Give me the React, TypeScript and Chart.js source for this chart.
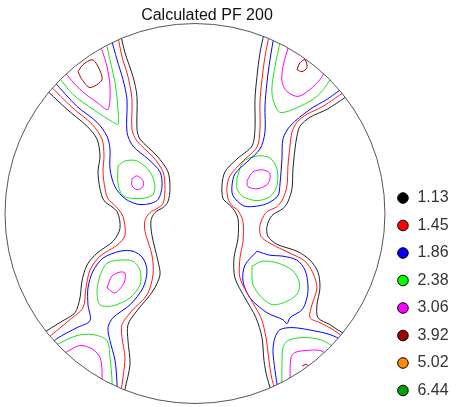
import React, { useEffect, useRef } from "react";
import { Chart, registerables } from "chart.js";

Chart.register(...registerables);

type Pt = [number, number];

// Pole figure radius (data units); contour coordinates are relative to the figure centre.
const R = 95;

const chartTitle = "Calculated PF 200";
const levels = ["1.13", "1.45", "1.86", "2.38", "3.06", "3.92", "5.02", "6.44"];

// ---- level 1.13 ----
const lv113_leftWest: Pt[] = [[-75, 62.5], [-73, 61], [-64, 52.5], [-54, 44], [-49, 37.5], [-47.5, 29], [-48.5, 21], [-47.5, 12.5], [-45.5, 6.5], [-39, 1], [-37.5, -7.5], [-41, -14], [-49, -20], [-54, -26], [-56.5, -34], [-57.5, -42.5], [-60, -50], [-66, -54], [-74, -59], [-76, -60.5]];
const lv113_leftEast: Pt[] = [[-37, 89.5], [-35, 81], [-31, 69], [-29, 59], [-29, 42.5], [-27.5, 37.5], [-19, 29], [-13.5, 21], [-12.5, 12.5], [-13.5, 6], [-16, 3], [-20, 0.5], [-22, -3.5], [-21.5, -11], [-18.5, -24], [-17.5, -31], [-21, -39], [-29, -49], [-33.5, -56], [-33.5, -64], [-32.5, -76], [-35, -88.5], [-35.5, -91]];
const lv113_rightWest: Pt[] = [[34.5, 90.5], [32.5, 81], [31, 69], [30, 57.5], [30, 42.5], [28.5, 34], [21, 27.5], [15, 21], [13.5, 14], [14, 7.5], [16.5, 5], [19, 2.5], [21.5, -2.5], [21.5, -12.5], [19.5, -22.5], [20, -32.5], [25, -42.5], [30.5, -52.5], [33.5, -62.5], [34.5, -74], [36, -82.5], [38, -89]];
const lv113_rightEast: Pt[] = [[76.5, 60], [75, 58.5], [66, 52.5], [57.5, 48.5], [52.5, 44], [51, 39], [50, 32.5], [49, 22.5], [48.5, 12.5], [46.5, 6], [44, 2.5], [38.5, -1], [36, -6.5], [36.5, -11.5], [41, -15.5], [51, -19], [57.5, -23.5], [61.5, -29.5], [62.5, -37.5], [61, -46], [61.5, -52.5], [67.5, -56], [73.5, -60], [76, -61]];

// ---- level 1.45 ----
const lv145_leftWest: Pt[] = [[-72.5, 64.5], [-61.5, 53.5], [-51.5, 45], [-46.5, 37.5], [-45.5, 29], [-46, 21], [-45, 12.5], [-43.5, 7.5], [-39.5, 3.5], [-36, -1.5], [-35, -11], [-39, -16], [-47.5, -21.5], [-52.5, -28.5], [-54.5, -37.5], [-56, -47.5], [-62.5, -53.5], [-71.5, -61], [-73.5, -63]];
const lv145_leftEast: Pt[] = [[-38.5, 89], [-36.5, 79], [-33.5, 69], [-31.5, 57.5], [-31.5, 42.5], [-29, 36.5], [-21, 28.5], [-16, 21], [-15, 12.5], [-16, 5], [-19, 2.5], [-22.5, 0.5], [-25, -3.5], [-25, -9], [-21.5, -21], [-21, -31], [-24, -41], [-31.5, -49], [-36.5, -56], [-36.5, -62.5], [-35, -72.5], [-36, -82.5], [-37, -90]];
const lv145_rightWest: Pt[] = [[37, 89.5], [35, 79], [33.5, 67.5], [32.5, 56], [32.5, 42.5], [31, 33.5], [23.5, 26], [17.5, 19], [16, 13.5], [16.5, 7.5], [18.5, 4], [21.5, 1.5], [24, -4], [24, -14], [22.5, -22.5], [22.5, -32.5], [27.5, -42.5], [33, -52.5], [35.5, -62.5], [37, -74], [38.5, -83.5], [40, -88.5]];
const lv145_rightEast: Pt[] = [[75, 61.5], [64, 54], [56, 50], [51, 46], [48.5, 41], [47.5, 34], [46.5, 24], [46, 14], [44, 7.5], [41, 3.5], [35.5, 0.5], [32.5, -6], [33, -11.5], [37.5, -15], [47.5, -20], [55, -24], [59, -30], [61, -37.5], [58.5, -46], [57.5, -52.5], [62.5, -55], [69, -58.5], [75, -63]];

// ---- level 1.86 ----
const lv186_leftUpper: Pt[] = [[-70.5, 66.5], [-59, 54], [-49, 46], [-44, 39], [-42.5, 32.5], [-42.5, 22.5], [-40, 13.5], [-35, 7.5], [-27.5, 4.5], [-19, 6.5], [-16.5, 13.5], [-17.5, 21], [-23.5, 27.5], [-31, 34], [-34, 41], [-34, 57.5], [-36, 67.5], [-39, 77.5], [-42, 88.5]];
const lv186_leftLower: Pt[] = [[-72, -66], [-69, -63], [-59, -57.5], [-52.5, -54], [-53.5, -46], [-53.5, -37.5], [-51, -29], [-46, -22.5], [-37.5, -19], [-31, -19], [-26, -22.5], [-24, -29], [-26, -37.5], [-32.5, -46], [-41, -52.5], [-43.5, -57.5], [-42.5, -64], [-40, -74], [-39, -85], [-39, -89.5]];
const lv186_rightUpper: Pt[] = [[39.5, 89.5], [37.5, 77.5], [36, 66], [35, 54], [35, 41], [32.5, 32.5], [26, 26], [20, 20], [18.5, 14], [19, 9], [24, 4], [29, 3.5], [36, 5], [41.5, 9], [42.5, 15], [43.5, 27.5], [44, 37.5], [47.5, 44], [57.5, 52.5], [66, 57.5], [71.5, 61.5], [73.5, 63]];
const lv186_rightLowerBlob: Pt[] = [[31, -19], [25, -26], [24, -34], [27.5, -42.5], [36, -50], [44, -53.5], [46, -55.5], [47.5, -52.5], [53.5, -48.5], [56, -42.5], [56.5, -36], [55, -28.5], [51, -23.5], [44, -21.5], [37.5, -21], [31, -19]];
const lv186_rightBottom: Pt[] = [[41.5, -89], [40, -79], [39, -69], [40, -62.5], [42.5, -58.5], [49, -57.5], [59, -59], [67.5, -61], [74, -64]];

// ---- level 2.38 ----
const lv238_leftTop: Pt[] = [[-68, 68.5], [-61, 60], [-51, 52.5], [-41, 46], [-38.5, 45], [-38.5, 52.5], [-40, 66], [-42.5, 77.5], [-44.5, 86.5]];
const lv238_leftUpperBlob: Pt[] = [[-38.5, 24], [-35, 26.5], [-29, 26.5], [-22.5, 21], [-20, 14], [-21.5, 9], [-29, 7.5], [-36, 9], [-38.5, 15], [-38.5, 24]];
const lv238_leftLowerBlob: Pt[] = [[-47.5, -31], [-44, -25], [-37.5, -23.5], [-31, -24], [-27.5, -28.5], [-27.5, -36], [-32.5, -42.5], [-41, -46.5], [-47.5, -46], [-49, -39], [-47.5, -31]];
const lv238_leftBottom: Pt[] = [[-69, -66], [-59, -61.5], [-51, -61], [-44, -64], [-42.5, -72.5], [-41.5, -83.5], [-41.5, -88.5]];
const lv238_rightTop: Pt[] = [[42.5, 86.5], [40, 74], [38.5, 64], [39, 57.5], [42.5, 51], [52.5, 54], [61, 59], [66, 65], [68, 68.5]];
const lv238_rightUpperBlob: Pt[] = [[21, 17.5], [24, 26], [31, 29], [37.5, 28], [41, 22.5], [41, 14], [37.5, 8.5], [31, 6.5], [24, 8.5], [21, 12.5], [21, 17.5]];
const lv238_rightLowerBlob: Pt[] = [[28.5, -26.5], [34, -24], [41.5, -25], [48.5, -28.5], [52, -34], [51.5, -40], [46.5, -44], [39, -46], [33.5, -42.5], [29, -36], [28.5, -31], [28.5, -26.5]];
const lv238_rightBottom: Pt[] = [[43.5, -88.5], [43.5, -76], [44, -67.5], [46.5, -64], [54, -62.5], [62.5, -63.5], [67.5, -66], [70.5, -68]];

// ---- level 3.06 ----
const lv306_leftTop: Pt[] = [[-65.5, 71.5], [-57.5, 62.5], [-49, 56], [-43.5, 52.5], [-42.5, 64], [-44, 74], [-46.5, 82.5], [-47.5, 85.5]];
const lv306_leftUpperBlob: Pt[] = [[-31.5, 17.5], [-29, 19], [-26, 16.5], [-26, 13.5], [-29, 12], [-31.5, 14], [-31.5, 17.5]];
const lv306_leftLowerBlob: Pt[] = [[-44, -37.5], [-41.5, -31.5], [-37.5, -29.5], [-35, -30], [-35.5, -35], [-40, -40], [-44, -37.5]];
const lv306_leftBottom: Pt[] = [[-65.5, -70.5], [-57.5, -66.5], [-51, -68.5], [-47.5, -72.5], [-46.5, -79], [-46.5, -85]];
const lv306_rightTop: Pt[] = [[47, 85], [44, 74], [43.5, 66.5], [46, 61.5], [51.5, 59], [57.5, 62.5], [62.5, 67.5], [65, 71.5]];
const lv306_rightUpperBlob: Pt[] = [[26, 16.5], [29, 21], [34, 22], [37.5, 20], [36.5, 15], [31.5, 12.5], [26.5, 13.5], [26, 16.5]];
const lv306_rightBottom: Pt[] = [[47.5, -83.5], [48, -72.5], [50, -70], [56, -69], [62.5, -69], [67, -71.5]];

// ---- level 3.92 ----
const lv392_leftTop: Pt[] = [[-58.5, 71.5], [-56, 75], [-51.5, 77.5], [-49, 75], [-46.5, 67.5], [-52.5, 63.5], [-56.5, 67.5], [-58.5, 71.5]];
const lv392_rightTop: Pt[] = [[51, 72.5], [52.5, 76], [55, 77.5], [56, 73.5], [53.5, 71.5], [51, 72.5]];
const lv392_rightBottom: Pt[] = [[53.5, -77], [55.5, -76], [57, -77]];

// which level each contour line belongs to (index into levels)
const contourLines: [number, Pt[]][] = [
  [0, lv113_leftWest], [0, lv113_leftEast], [0, lv113_rightWest], [0, lv113_rightEast],
  [1, lv145_leftWest], [1, lv145_leftEast], [1, lv145_rightWest], [1, lv145_rightEast],
  [2, lv186_leftUpper], [2, lv186_leftLower], [2, lv186_rightUpper], [2, lv186_rightLowerBlob], [2, lv186_rightBottom],
  [3, lv238_leftTop], [3, lv238_leftUpperBlob], [3, lv238_leftLowerBlob], [3, lv238_leftBottom],
  [3, lv238_rightTop], [3, lv238_rightUpperBlob], [3, lv238_rightLowerBlob], [3, lv238_rightBottom],
  [4, lv306_leftTop], [4, lv306_leftUpperBlob], [4, lv306_leftLowerBlob], [4, lv306_leftBottom],
  [4, lv306_rightTop], [4, lv306_rightUpperBlob], [4, lv306_rightBottom],
  [5, lv392_leftTop], [5, lv392_rightTop], [5, lv392_rightBottom],
];

const lineColors = ["#222222", "#ff1a1a", "#0000ff", "#1ee01e", "#ff00ff", "#a00000", "#ff8000", "#00a000"];
const markerColors = ["#000000", "#ff0000", "#0000ff", "#00ff00", "#ff00ff", "#a00000", "#ff8c00", "#00a000"];

const FONT = "'Liberation Sans', Arial, Helvetica, sans-serif";

const circlePlugin = {
  id: "pfCircle",
  beforeDatasetsDraw(chart: any) {
    const { ctx, scales } = chart;
    const cx = scales.x.getPixelForValue(0);
    const cy = scales.y.getPixelForValue(0);
    const r = scales.x.getPixelForValue(R) - cx;
    ctx.save();
    ctx.beginPath();
    ctx.arc(cx, cy, r, 0, Math.PI * 2);
    ctx.clip();
  },
  afterDatasetsDraw(chart: any) {
    const { ctx, scales } = chart;
    ctx.restore();
    const cx = scales.x.getPixelForValue(0);
    const cy = scales.y.getPixelForValue(0);
    const r = scales.x.getPixelForValue(R) - cx;
    ctx.save();
    ctx.beginPath();
    ctx.arc(cx, cy, r, 0, Math.PI * 2);
    ctx.strokeStyle = "#555555";
    ctx.lineWidth = 1;
    ctx.stroke();
    ctx.restore();
  },
};

const titlePlugin = {
  id: "pfTitle",
  afterDraw(chart: any) {
    const { ctx, chartArea } = chart;
    ctx.save();
    ctx.font = `16px ${FONT}`;
    ctx.fillStyle = "#111111";
    ctx.textAlign = "center";
    ctx.textBaseline = "alphabetic";
    ctx.fillText(chartTitle, (chartArea.left + chartArea.right) / 2 + 12, 20);
    ctx.restore();
  },
};

export default function App() {
  const canvasRef = useRef<HTMLCanvasElement | null>(null);

  useEffect(() => {
    if (!canvasRef.current) return;
    const datasets = contourLines.map(([lvl, pts]) => ({
      label: levels[lvl],
      data: pts.map(([x, y]) => ({ x, y })),
      showLine: true,
      borderColor: lineColors[lvl],
      backgroundColor: lineColors[lvl],
      borderWidth: 1,
      pointRadius: 0,
      tension: 0.3,
      fill: false,
    }));

    const chart = new Chart(canvasRef.current, {
      type: "scatter",
      data: { datasets },
      options: {
        animation: false,
        responsive: false,
        events: [],
        layout: { padding: { left: 5, top: 25, right: -2.6, bottom: -3 }, autoPadding: false },
        scales: {
          x: { type: "linear", min: -R, max: R, display: false },
          y: { type: "linear", min: -97.5, max: R, display: false },
        },
        plugins: {
          title: { display: false },
          tooltip: { enabled: false },
          legend: {
            display: true,
            position: "right",
            align: "end",
            labels: {
              usePointStyle: true,
              boxWidth: 13,
              boxHeight: 7.5,
              padding: 11.5,
              color: "#333333",
              font: { size: 16, family: FONT },
              generateLabels: () =>
                levels.map((t, i) => ({
                  text: t,
                  fillStyle: markerColors[i],
                  strokeStyle: "#000000",
                  lineWidth: 1,
                  pointStyle: "circle",
                  hidden: false,
                  fontColor: "#333333",
                })),
            },
          },
        },
      } as any,
      plugins: [circlePlugin, titlePlugin],
    });
    return () => chart.destroy();
  }, []);

  return (
    <div style={{ position: "absolute", left: 0, top: 0, width: 456, height: 407, background: "#ffffff" }}>
      <canvas ref={canvasRef} width={456} height={407} style={{ display: "block" }} />
    </div>
  );
}
